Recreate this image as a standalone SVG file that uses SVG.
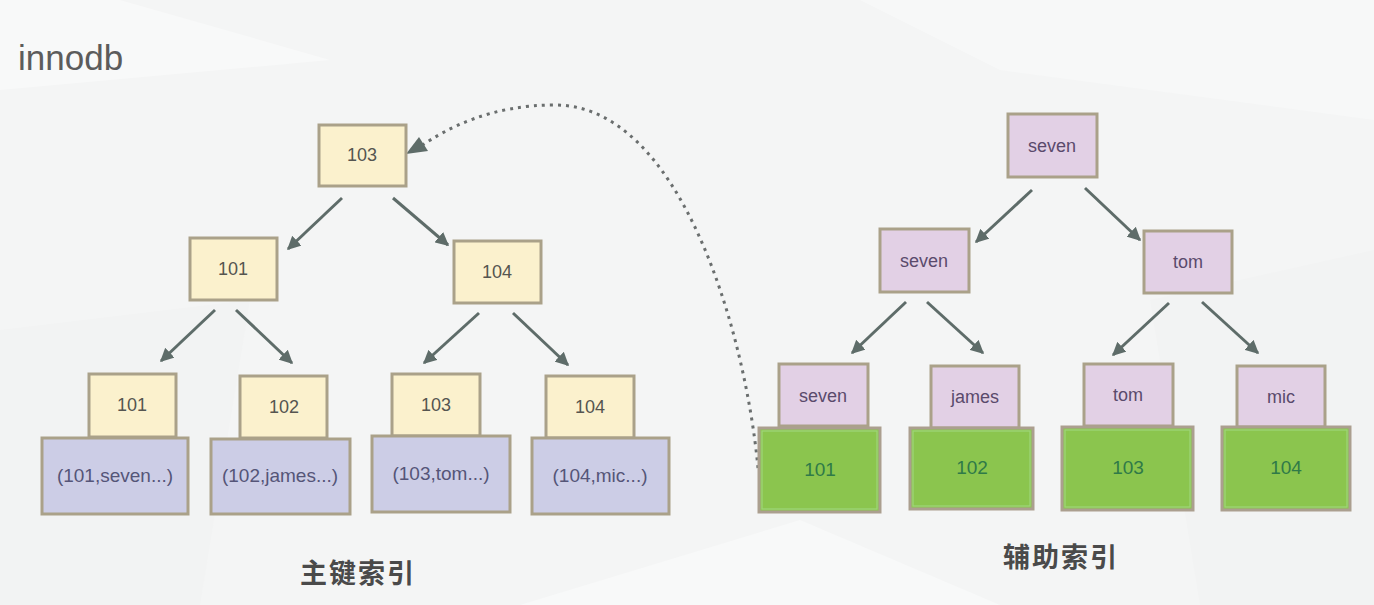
<svg xmlns="http://www.w3.org/2000/svg" width="1374" height="605" viewBox="0 0 1374 605">
<defs>
<style>
.y{fill:#fbf1cd;stroke:#aaa189;stroke-width:3}
.r{fill:#cccde6;stroke:#aaa189;stroke-width:3}
.p{fill:#e2d0e5;stroke:#aaa189;stroke-width:3}
.g{fill:#8bc54e;stroke:#ab9f8f;stroke-width:3}
.gi{fill:none;stroke:#9fd57a;stroke-width:1.2}
.t{font-family:"Liberation Sans",Arial,sans-serif;font-size:18px;text-anchor:middle}
.tb{font-size:19px}
.ty{fill:#555550}
.tr{fill:#555578}
.tp{fill:#5a4a6c}
.tg{fill:#2f7a48}
.a{stroke:#5e6c69;stroke-width:3;fill:none;marker-end:url(#ah)}
.cn{font-family:"Noto Sans CJK SC","Liberation Sans",sans-serif;font-size:27px;font-weight:bold;fill:#4a4a4a;text-anchor:middle;letter-spacing:2px}
</style>
<marker id="ah" viewBox="0 0 10 10" refX="9" refY="5" markerWidth="4.5" markerHeight="4.5" orient="auto" markerUnits="strokeWidth">
<path d="M0,0 L10,5 L0,10 z" fill="#5e6c69"/>
</marker>
</defs>
<rect width="1374" height="605" fill="#f4f5f5"/>
<polygon points="0,90 330,60 120,0 0,0" fill="#f8f9f9"/>
<polygon points="860,0 1374,0 1374,120 1000,70" fill="#f7f8f8"/>
<polygon points="1150,300 1374,250 1374,605 1200,605" fill="#f2f3f3"/>
<polygon points="0,330 250,300 200,605 0,605" fill="#f2f3f3"/>
<polygon points="520,605 800,520 1000,605" fill="#f8f9f9"/>
<text x="18" y="70" font-family="Liberation Sans,Arial,sans-serif" font-size="35" fill="#5c5c5c">innodb</text>

<g id="connectors">
<line class="a" x1="342" y1="198" x2="288" y2="249"/>
<line class="a" x1="393" y1="198" x2="448" y2="245"/>
<line class="a" x1="215" y1="310" x2="161" y2="361"/>
<line class="a" x1="236" y1="310" x2="292" y2="363"/>
<line class="a" x1="479" y1="313" x2="424" y2="363"/>
<line class="a" x1="513" y1="313" x2="568" y2="365"/>
<line class="a" x1="1032" y1="190" x2="976" y2="242"/>
<line class="a" x1="1085" y1="188" x2="1140" y2="240"/>
<line class="a" x1="906" y1="302" x2="852" y2="353"/>
<line class="a" x1="927" y1="302" x2="983" y2="353"/>
<line class="a" x1="1169" y1="303" x2="1113" y2="355"/>
<line class="a" x1="1202" y1="302" x2="1258" y2="353"/>
<path d="M758,468 C745,330 680,105 555,105 C490,105 448,128 421,146" fill="none" stroke="#6a6e6e" stroke-width="3" stroke-dasharray="3 5"/>
<path d="M406,154 L419,137 L428,151 z" fill="#5e6c69"/>
</g>

<g id="p103"><rect class="y" x="319" y="125" width="87" height="61"/><text class="t ty" x="362" y="161">103</text></g>
<g id="p101"><rect class="y" x="190" y="238" width="87" height="62"/><text class="t ty" x="233" y="275">101</text></g>
<g id="p104"><rect class="y" x="454" y="241" width="87" height="62"/><text class="t ty" x="497" y="278">104</text></g>

<g id="leaf101"><rect class="y" x="89" y="374" width="87" height="63"/><text class="t ty" x="132" y="411">101</text>
<rect class="r" x="42" y="438" width="146" height="76"/><text class="t tb tr" x="115" y="482">(101,seven...)</text></g>
<g id="leaf102"><rect class="y" x="240" y="376" width="87" height="62"/><text class="t ty" x="284" y="413">102</text>
<rect class="r" x="211" y="439" width="139" height="75"/><text class="t tb tr" x="280" y="482">(102,james...)</text></g>
<g id="leaf103"><rect class="y" x="392" y="374" width="88" height="62"/><text class="t ty" x="436" y="411">103</text>
<rect class="r" x="372" y="436" width="138" height="76"/><text class="t tb tr" x="441" y="480">(103,tom...)</text></g>
<g id="leaf104"><rect class="y" x="546" y="376" width="88" height="62"/><text class="t ty" x="590" y="413">104</text>
<rect class="r" x="532" y="438" width="137" height="76"/><text class="t tb tr" x="600" y="482">(104,mic...)</text></g>

<g id="sroot"><rect class="p" x="1008" y="114" width="89" height="63"/><text class="t tp" x="1052" y="152">seven</text></g>
<g id="sseven"><rect class="p" x="880" y="229" width="89" height="63"/><text class="t tp" x="924" y="267">seven</text></g>
<g id="stom"><rect class="p" x="1144" y="231" width="88" height="62"/><text class="t tp" x="1188" y="268">tom</text></g>

<g id="lseven"><rect class="p" x="779" y="364" width="89" height="62"/><text class="t tp" x="823" y="402">seven</text>
<rect class="g" x="759" y="428" width="121" height="84"/><rect class="gi" x="762" y="431" width="115" height="78"/><text class="t tb tg" x="820" y="476">101</text></g>
<g id="ljames"><rect class="p" x="931" y="366" width="88" height="62"/><text class="t tp" x="975" y="403">james</text>
<rect class="g" x="910" y="428" width="123" height="81"/><rect class="gi" x="913" y="431" width="117" height="75"/><text class="t tb tg" x="972" y="474">102</text></g>
<g id="ltom"><rect class="p" x="1084" y="364" width="89" height="62"/><text class="t tp" x="1128" y="401">tom</text>
<rect class="g" x="1062" y="427" width="131" height="83"/><rect class="gi" x="1065" y="430" width="125" height="77"/><text class="t tb tg" x="1128" y="474">103</text></g>
<g id="lmic"><rect class="p" x="1237" y="366" width="88" height="61"/><text class="t tp" x="1281" y="403">mic</text>
<rect class="g" x="1222" y="427" width="128" height="83"/><rect class="gi" x="1225" y="430" width="122" height="77"/><text class="t tb tg" x="1286" y="474">104</text></g>

<text class="cn" x="358" y="583">主键索引</text>
<text class="cn" x="1061" y="567">辅助索引</text>
</svg>
